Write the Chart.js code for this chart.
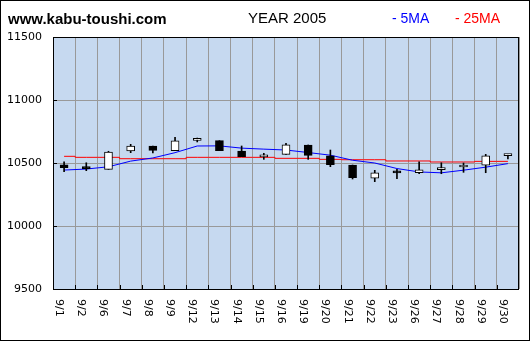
<!DOCTYPE html>
<html>
<head>
<meta charset="utf-8">
<script src="https://cdn.jsdelivr.net/npm/chart.js@4.4.1/dist/chart.umd.min.js"></script>
<style>
  body { margin: 0; background: #fff; }
  #wrap { position: relative; width: 530px; height: 341px; }
  #chart { position: absolute; left: 0; top: 0; }
  .hd { position: absolute; white-space: nowrap; font-family: "Liberation Sans", Arial, sans-serif; }
  #site { left: 8px; top: 11px; font-size: 15px; line-height: 15px; font-weight: bold; color: #000; }
  #year { left: 248px; top: 10px; font-size: 15px; line-height: 15px; color: #000; }
  #ma5 { left: 392px; top: 11px; font-size: 14px; line-height: 14px; color: #0000ff; }
  #ma25 { left: 455px; top: 11px; font-size: 14px; line-height: 14px; color: #ff0000; }
</style>
</head>
<body>
<div id="wrap">
  <canvas id="chart" width="530" height="341"></canvas>
  <div class="hd" id="site">www.kabu-toushi.com</div>
  <div class="hd" id="year">YEAR 2005</div>
  <div class="hd" id="ma5">- 5MA</div>
  <div class="hd" id="ma25">- 25MA</div>
</div>
<script>
// 日足データ (2005年9月)
const days = ["9/1", "9/2", "9/6", "9/7", "9/8", "9/9", "9/12", "9/13", "9/14", "9/15", "9/16",
              "9/19", "9/20", "9/21", "9/22", "9/23", "9/26", "9/27", "9/28", "9/29", "9/30"];
const openPx  = [10486, 10459, 10450, 10595, 10635, 10598, 10680, 10677, 10595, 10548, 10569,
                 10643, 10556, 10484, 10379, 10423, 10424, 10448, 10468, 10482, 10558];
const closePx = [10462, 10455, 10587, 10635, 10600, 10675, 10684, 10598, 10550, 10559, 10645,
                 10561, 10486, 10383, 10421, 10421, 10446, 10452, 10479, 10556, 10566];
const highPx  = [10510, 10502, 10593, 10648, 10635, 10704, 10698, 10677, 10635, 10577, 10656,
                 10643, 10603, 10484, 10442, 10450, 10510, 10502, 10500, 10569, 10566];
const lowPx   = [10431, 10439, 10450, 10582, 10580, 10598, 10667, 10598, 10550, 10529, 10569,
                 10529, 10471, 10373, 10352, 10375, 10415, 10415, 10426, 10423, 10532];
const ma5  = [10444, 10452, 10470, 10515, 10540, 10582, 10635, 10636, 10618, 10610, 10603,
              10583, 10562, 10522, 10500, 10456, 10429, 10422, 10443, 10467, 10495];
const ma25 = [10553, 10545, 10545, 10534, 10534, 10534, 10545, 10545, 10545, 10545, 10537,
              10537, 10529, 10526, 10526, 10516, 10516, 10508, 10508, 10513, 10513];

const Y_MIN = 9500, Y_MAX = 11500, Y_STEP = 500;

// 実体 [始値, 終値] とヒゲ [安値, 高値]
const bodies = days.map((d, i) => [openPx[i], closePx[i]]);
const wicks = days.map((d, i) => [lowPx[i], highPx[i]]);
const bodyColors = days.map((d, i) => closePx[i] >= openPx[i] ? "#ffffff" : "#000000");

// 背景・枠・内向き目盛・縦書き日付
const framePlugin = {
    id: "frame",
    beforeDraw(chart) {
        const { ctx, chartArea: a } = chart;
        ctx.save();
        ctx.fillStyle = "#c6d9f0";
        ctx.fillRect(a.left, a.top, a.right - a.left, a.bottom - a.top);
        ctx.restore();
    },
    afterDraw(chart) {
        const { ctx, chartArea: a } = chart;
        const xs = chart.scales.x, ys = chart.scales.y;
        ctx.save();
        ctx.strokeStyle = "#000";
        ctx.lineWidth = 1;
        ctx.strokeRect(a.left + 0.5, a.top + 0.5, a.right - a.left - 1, a.bottom - a.top);

        // 目盛
        ctx.beginPath();
        for (let v = Y_MIN + Y_STEP; v < Y_MAX; v += Y_STEP) {
            const y = Math.round(ys.getPixelForValue(v)) + 0.5;
            ctx.moveTo(a.left, y);
            ctx.lineTo(a.left + 4, y);
        }
        const w = (a.right - a.left) / days.length;
        for (let i = 1; i < days.length; i++) {
            const x = Math.round(a.left + w * i) + 0.5;
            ctx.moveTo(x, a.bottom);
            ctx.lineTo(x, a.bottom - 4);
        }
        ctx.stroke();

        // 日付ラベル (時計回り90度)
        ctx.fillStyle = "#000";
        ctx.font = '11px "DejaVu Sans"';
        ctx.textAlign = "left";
        ctx.textBaseline = "alphabetic";
        days.forEach((d, i) => {
            const cx = xs.getPixelForValue(i);
            ctx.save();
            ctx.translate(Math.round(cx) - 8, a.bottom + 10);
            ctx.rotate(Math.PI / 2);
            ctx.fillText(d, 0, 0);
            ctx.restore();
        });

        // 外枠
        ctx.strokeRect(0.5, 0.5, chart.width - 1, chart.height - 1);
        ctx.restore();
    }
};

new Chart(document.getElementById("chart"), {
    type: "bar",
    data: {
        labels: days,
        datasets: [
            {
                label: "body",
                data: bodies,
                backgroundColor: bodyColors,
                borderColor: "#000",
                borderWidth: 1,
                borderSkipped: false,
                barThickness: 8,
                minBarLength: 2,
                grouped: false,
                order: 0
            },
            {
                label: "wick",
                data: wicks,
                backgroundColor: "#000",
                borderWidth: 0,
                barThickness: 1,
                grouped: false,
                order: 1
            },
            {
                type: "line",
                label: "5MA",
                data: ma5,
                borderColor: "#0000ff",
                borderWidth: 1,
                pointRadius: 0,
                tension: 0,
                order: 2
            },
            {
                type: "line",
                label: "25MA",
                data: ma25,
                borderColor: "#ff0000",
                borderWidth: 1,
                pointRadius: 0,
                stepped: "middle",
                order: 3
            }
        ]
    },
    options: {
        responsive: false,
        animation: false,
        events: [],
        layout: { padding: { left: 0, top: 37, right: 11, bottom: 52 } },
        plugins: { legend: { display: false }, tooltip: { enabled: false }, title: { display: false } },
        scales: {
            x: {
                offset: true,
                grid: { offset: true, color: "#999999", lineWidth: 1, drawTicks: false },
                border: { display: false },
                ticks: { display: false },
                afterFit(scale) { scale.height = 0; }
            },
            y: {
                min: Y_MIN,
                max: Y_MAX,
                grid: { color: "#999999", lineWidth: 1, drawTicks: false },
                border: { display: false },
                ticks: {
                    stepSize: Y_STEP,
                    padding: 11,
                    color: "#000",
                    font: { family: "DejaVu Sans", size: 11 },
                    callback: (v) => String(v)
                },
                afterFit(scale) { scale.width = 53; }
            }
        }
    },
    plugins: [framePlugin]
});
</script>
</body>
</html>
